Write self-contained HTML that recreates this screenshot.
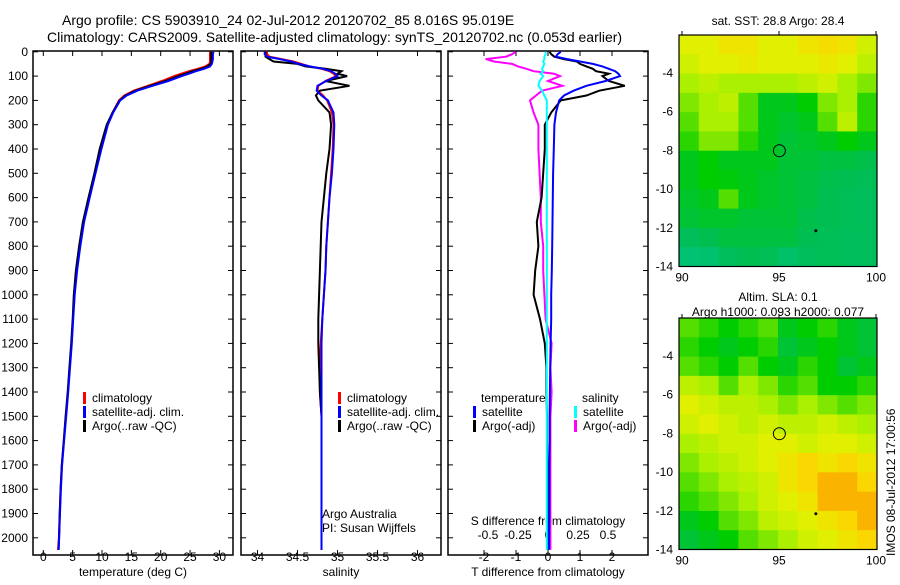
<!DOCTYPE html>
<html><head><meta charset="utf-8"><style>
body{margin:0;background:#fff}
svg{font-family:"Liberation Sans",sans-serif;font-size:12px}
</style></head><body>
<svg id="c" width="900" height="580" xmlns="http://www.w3.org/2000/svg">
<rect width="900" height="580" fill="#fff"/>
<text x="62" y="25" font-size="14">Argo profile: CS 5903910_24 02-Jul-2012 20120702_85 8.016S 95.019E</text>
<text x="47" y="42" font-size="14">Climatology: CARS2009. Satellite-adjusted climatology: synTS_20120702.nc (0.053d earlier)</text>
<g id="g"></g>
</svg>
<script>
const depths=[0,10,20,30,40,50,60,70,80,90,100,120,140,160,180,200,250,300,400,500,600,700,800,900,1000,1100,1200,1300,1400,1500,1600,1700,1800,1900,2000,2050];
const tempClim=[28.4,28.4,28.4,28.4,28.4,28.3,27.6,26.3,24.8,23.5,22.3,20.2,17.8,15.4,13.8,12.9,11.8,10.9,9.8,8.8,7.8,6.85,6.2,5.65,5.3,5.05,4.8,4.5,4.2,3.85,3.5,3.15,2.95,2.8,2.65,2.5];
const tempSat=[29.0,28.9,28.9,28.9,28.8,28.7,28.4,27.4,26.0,24.8,23.6,21.3,18.6,16.0,14.2,13.1,11.9,11.0,9.9,8.9,7.9,6.95,6.3,5.75,5.35,5.1,4.85,4.55,4.25,3.9,3.55,3.2,3.0,2.85,2.7,2.6];
const tempArgo=[28.6,28.6,28.6,28.6,28.6,28.5,28.0,26.9,25.4,24.2,23.0,20.8,18.2,15.7,14.0,13.0,11.8,10.8,9.6,8.7,7.7,6.75,6.1,5.55,5.2,5.0,4.75,4.45,4.15,3.8,3.5,3.15,2.95,2.8,2.7,2.6];
const salClim=[34.12,34.12,34.15,34.3,34.45,34.55,34.65,34.8,34.9,34.95,34.98,34.85,34.76,34.75,34.82,34.87,34.93,34.95,34.94,34.92,34.9,34.88,34.86,34.85,34.83,34.81,34.79,34.78,34.78,34.8,34.8,34.8,34.8,34.8,34.8,34.8];
const salSat=[34.09,34.09,34.12,34.28,34.42,34.52,34.65,34.82,34.92,34.97,35.0,34.86,34.75,34.74,34.8,34.88,34.95,34.96,34.95,34.93,34.9,34.88,34.86,34.85,34.83,34.81,34.8,34.8,34.8,34.8,34.8,34.8,34.8,34.8,34.8,34.8];
const salArgo=[34.1,34.1,34.1,34.15,34.2,34.5,34.6,34.85,35.05,35.0,35.12,34.85,35.15,34.78,34.73,34.76,34.9,34.92,34.9,34.86,34.83,34.8,34.79,34.78,34.77,34.76,34.76,34.77,34.78,34.8,34.8,34.8,34.8,34.8,34.8,34.8];
const dTArgo=[0.05,0.1,0.2,0.5,0.9,1.0,1.2,1.4,1.5,1.9,1.7,1.9,2.4,1.6,1.2,0.4,0.1,-0.1,-0.1,-0.15,-0.2,-0.35,-0.3,-0.4,-0.45,-0.25,-0.1,-0.05,-0.05,-0.03,-0.03,-0.02,-0.02,-0.02,-0.02,-0.02];
const dTSat=[0.4,0.3,0.25,0.6,1.0,1.4,1.7,1.9,2.1,2.2,2.25,1.8,1.2,0.8,0.5,0.35,0.25,0.2,0.18,0.16,0.15,0.14,0.13,0.12,0.1,0.1,0.08,0.07,0.06,0.05,0.05,0.04,0.04,0.04,0.03,0.03];
const dSArgo=[-0.27,-0.3,-0.35,-0.52,-0.45,-0.3,-0.25,-0.18,-0.12,0.05,0.1,0.0,0.12,-0.05,-0.1,-0.15,-0.12,-0.08,-0.08,-0.07,-0.06,-0.06,-0.04,-0.04,-0.03,-0.02,0.03,0.02,0.03,0.02,0.02,0.02,0.02,0.02,0.02,0.02];
const dSSat=[-0.02,-0.02,-0.03,-0.03,-0.04,-0.03,-0.04,-0.05,-0.04,-0.06,-0.04,-0.07,-0.08,-0.05,-0.03,-0.01,-0.01,-0.01,-0.01,-0.01,-0.01,-0.01,-0.01,-0.01,-0.01,-0.01,-0.01,-0.01,-0.01,-0.01,-0.01,-0.01,-0.01,-0.01,-0.01,-0.01];
const depthTicks=[0,100,200,300,400,500,600,700,800,900,1000,1100,1200,1300,1400,1500,1600,1700,1800,1900,2000];
const tempTicks=[0,5,10,15,20,25,30];
const salTicks=[34,34.5,35,35.5,36];
const dTTicks=[-2,-1,0,1,2];
const dSTicks=[-0.5,-0.25,0,0.25,0.5];
const lonTicks=[90,95,100];
const latTicks=[-4,-6,-8,-10,-12,-14];
const sstGrid=[
[.85,.85,.9,.9,.85,.85,.9,.92,.9,.8],[.8,.85,.85,.88,.85,.85,.85,.88,.85,.75],[.7,.75,.7,.7,.7,.7,.75,.8,.7,.65],
[.65,.7,.75,.6,.45,.45,.5,.65,.7,.55],[.6,.7,.7,.6,.45,.42,.45,.6,.75,.55],[.55,.65,.65,.55,.45,.4,.42,.45,.5,.45],
[.45,.5,.45,.45,.45,.4,.4,.38,.38,.36],[.45,.5,.48,.45,.42,.4,.38,.36,.34,.32],[.42,.45,.6,.45,.42,.4,.38,.34,.32,.3],
[.4,.42,.42,.4,.4,.4,.36,.34,.32,.3],[.3,.35,.38,.38,.38,.38,.34,.32,.3,.3],[.2,.22,.3,.34,.32,.25,.3,.32,.3,.3]];
const slaGrid=[
[.6,.55,.5,.55,.6,.45,.5,.55,.45,.4],[.55,.5,.45,.5,.55,.4,.45,.5,.45,.4],[.6,.55,.5,.6,.5,.45,.55,.5,.4,.45],
[.75,.7,.6,.7,.65,.55,.6,.5,.5,.55],[.85,.8,.75,.75,.7,.65,.7,.65,.6,.65],[.8,.85,.8,.75,.8,.75,.75,.8,.75,.7],
[.7,.75,.8,.8,.85,.85,.8,.85,.85,.8],[.65,.7,.75,.8,.85,.9,.95,.9,.95,.9],[.6,.65,.7,.75,.8,.9,.95,1,1,.95],
[.55,.6,.65,.7,.8,.85,.9,1,1,1],[.45,.5,.6,.65,.75,.8,.85,.9,.95,1],[.4,.45,.5,.6,.65,.7,.8,.85,.9,.95]];

const NS="http://www.w3.org/2000/svg";
const G=document.getElementById('g');
function mk(t,a,txt){const e=document.createElementNS(NS,t);for(const k in a)e.setAttribute(k,a[k]);if(txt!==undefined)e.textContent=txt;G.appendChild(e);return e;}
const Y0=51.8,YS=0.243;
const yD=d=>Y0+d*YS;
const panels=[{x:33,w:200},{x:241,w:200},{x:448,w:200}];
const xT=v=>43.3+v*5.87, xS=v=>257.5+(v-34)*80, xdT=v=>548+v*32, xdS=v=>548+v*120;

function frame(p,name){const r=mk('rect',{x:p.x,y:51,width:p.w,height:504,fill:'none',stroke:'#000','stroke-width':1.5});

depthTicks.forEach(d=>{const t=mk('line',{x1:p.x,x2:p.x+5,y1:yD(d),y2:yD(d),stroke:'#000'});
const t2=mk('line',{x1:p.x+p.w-5,x2:p.x+p.w,y1:yD(d),y2:yD(d),stroke:'#000'});});}
frame(panels[0],'temperature-panel');frame(panels[1],'salinity-panel');frame(panels[2],'difference-panel');
depthTicks.forEach(d=>{const t=mk('text',{x:28,y:yD(d)+4,'text-anchor':'end'},String(d));});
function xticks(ticks,fx,ly,top){ticks.forEach(v=>{const x=fx(v);
const a=mk('line',{x1:x,x2:x,y1:555,y2:550,stroke:'#000'});
if(top){const b=mk('line',{x1:x,x2:x,y1:51,y2:56,stroke:'#000'});}
const t=mk('text',{x:x,y:ly,'text-anchor':'middle'},String(v));});}
xticks(tempTicks,xT,561,true);xticks(salTicks,xS,561,true);xticks(dTTicks,xdT,561,true);
dSTicks.forEach(v=>{const t=mk('text',{x:xdS(v),y:539,'text-anchor':'middle'},String(v));});
[['temperature (deg C)',133,'x-axis-title-temperature'],['salinity',341,'x-axis-title-salinity'],['T difference from climatology',548,'x-axis-title-t-difference']].forEach(a=>{const t=mk('text',{x:a[1],y:576,'text-anchor':'middle'},a[0]);});
const st=mk('text',{x:548,y:525,'text-anchor':'middle'},'S difference from climatology');

function line(vals,fx,col,name,w){const pts=vals.map((v,i)=>fx(v).toFixed(1)+','+yD(depths[i]).toFixed(1)).join(' ');
const l=mk('polyline',{points:pts,fill:'none',stroke:col,'stroke-width':w||2});}
line(tempClim,xT,'#f00','temp-climatology-line');line(tempArgo,xT,'#000','temp-argo-line');line(tempSat,xT,'#00f','temp-satellite-line');
line(salClim,xS,'#f00','sal-climatology-line');line(salArgo,xS,'#000','sal-argo-line');line(salSat,xS,'#00f','sal-satellite-line');
line(dSArgo,xdS,'#f0f','s-diff-argo-line');line(dTArgo,xdT,'#000','t-diff-argo-line');line(dTSat,xdT,'#00f','t-diff-satellite-line');line(dSSat,xdS,'#0ff','s-diff-satellite-line');

function leg(x,y,col,txt,name){const b=mk('rect',{x:x,y:y-10,width:3,height:12,fill:col});
const t=mk('text',{x:x+9,y:y},txt);}
[[83],[338]].forEach((p,i)=>{leg(p[0],402,'#f00','climatology','legend-climatology');leg(p[0],416,'#00f','satellite-adj. clim.','legend-satellite');leg(p[0],430,'#000','Argo(..raw -QC)','legend-argo');});
const lt=mk('text',{x:481,y:402},'temperature');
const ls=mk('text',{x:582,y:402},'salinity');
leg(473,416,'#00f','satellite','legend-t-satellite');leg(574,416,'#0ff','satellite','legend-s-satellite');
leg(473,430,'#000','Argo(-adj)','legend-t-argo');leg(574,430,'#f0f','Argo(-adj)','legend-s-argo');
const a1=mk('text',{x:322,y:518},'Argo Australia');
const a2=mk('text',{x:322,y:532},'PI: Susan Wijffels');

function col(v){const stops=[[0,[0,200,160]],[0.35,[0,190,80]],[0.5,[0,205,0]],[0.7,[170,240,0]],[0.85,[225,240,0]],[0.95,[250,215,0]],[1,[250,180,0]]];
for(let i=1;i<stops.length;i++){if(v<=stops[i][0]){const a=stops[i-1],b=stops[i],f=(v-a[0])/(b[0]-a[0]);return 'rgb('+a[1].map((c,k)=>Math.round(c+(b[1][k]-c)*f)).join(',')+')';}}return 'rgb(250,180,0)';}
function map(top,lat4y,grid,name){const left=679,right=877,bottom=lat4y+193.5;
const xL=lon=>682+(lon-90)*19.4, yL=lat=>lat4y+(-4-lat)*19.35;
const rows=grid.length,cols=grid[0].length,cw=(right-left)/cols,ch=(bottom-top)/rows;
grid.forEach((r,i)=>r.forEach((v,j)=>{const c=mk('rect',{x:left+j*cw,y:top+i*ch,width:cw+0.5,height:ch+0.5,fill:col(v)});}));
const f=mk('rect',{x:left,y:top,width:right-left,height:bottom-top,fill:'none',stroke:'#000','stroke-width':1.2});
lonTicks.forEach(l=>{const t=mk('text',{x:xL(l),y:bottom+15,'text-anchor':'middle'},String(l));
const k=mk('line',{x1:xL(l),x2:xL(l),y1:top,y2:top-4,stroke:'#000'});});
latTicks.forEach(l=>{const t=mk('text',{x:673,y:yL(l)+4,'text-anchor':'end'},String(l));});
const o=mk('circle',{cx:xL(95.019),cy:yL(-8.016),r:6,fill:'none',stroke:'#000','stroke-width':1});
const is=mk('circle',{cx:xL(96.9),cy:yL(-12.15),r:1.5,fill:'#000'});}
map(35,73,sstGrid,'sst-map');map(318,356,slaGrid,'sla-map');
const m1=mk('text',{x:778,y:25,'text-anchor':'middle'},'sat. SST: 28.8 Argo: 28.4');
const m2=mk('text',{x:778,y:301,'text-anchor':'middle'},'Altim. SLA: 0.1');
const m3=mk('text',{x:778,y:316,'text-anchor':'middle'},'Argo h1000: 0.093 h2000: 0.077');
const ts=mk('text',{x:0,y:0,transform:'translate(895,556) rotate(-90)'},'IMOS 08-Jul-2012 17:00:56');
</script>
</body></html>
